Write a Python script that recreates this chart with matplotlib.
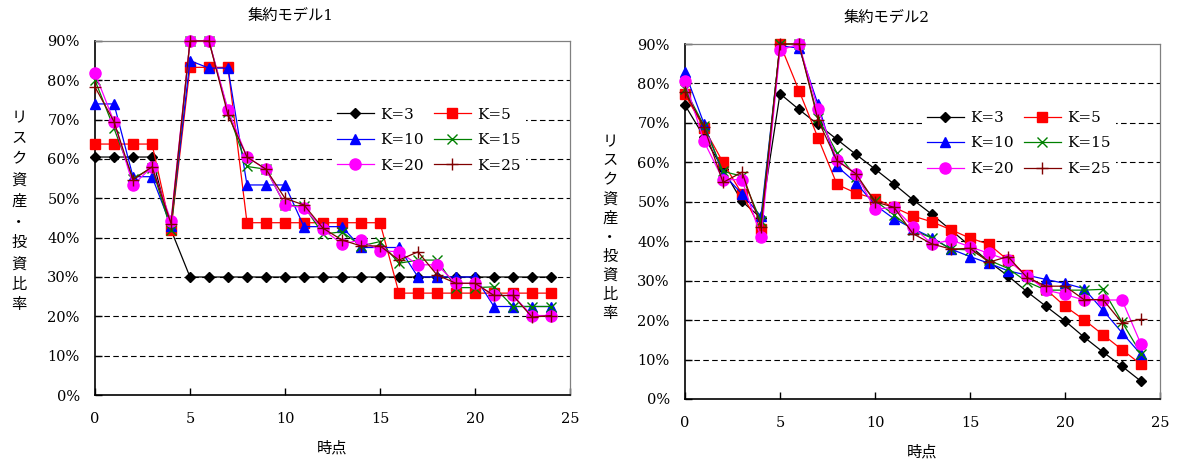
import numpy as np
import matplotlib.pyplot as plt
from matplotlib.ticker import FuncFormatter

plt.rcParams['font.family'] = ['DejaVu Serif', 'Noto Sans CJK JP']

t = np.arange(25)
labels = ['K=3', 'K=5', 'K=10', 'K=15', 'K=20', 'K=25']

# 集約モデル1 (リスク資産比率 %)
m1_k3 = [60.5, 60.5, 60.5, 60.5, 42.0] + [30.0] * 20
m1_k5 = [63.8] * 4 + [42.0, 83.3, 83.3, 83.3] + [43.8] * 8 + [25.9] * 9
m1_k10 = [74.0, 74.0, 55.5, 55.5, 43.0, 85.0, 83.1, 83.1, 53.4, 53.4, 53.4, 42.8, 42.8,
          42.8, 37.5, 37.5, 37.5, 30.0, 30.0, 30.0, 30.0, 22.5, 22.5, 22.5, 22.5]
m1_k15 = [80.0, 67.8, 55.0, 57.8, 42.0, 90.0, 90.0, 72.0, 58.1, 57.4, 48.3, 48.0, 40.9,
          41.5, 37.9, 39.0, 33.5, 34.3, 34.3, 27.3, 27.3, 27.5, 22.5, 22.5, 22.5]
m1_k20 = [81.8, 69.5, 53.4, 58.0, 44.3, 90.0, 90.0, 72.5, 60.5, 57.4, 48.3, 47.6, 42.1,
          38.4, 39.4, 36.7, 36.4, 33.1, 33.1, 28.4, 28.4, 25.3, 25.3, 20.2, 20.2]
m1_k25 = [78.3, 69.5, 54.7, 58.0, 43.6, 90.0, 90.0, 71.2, 60.5, 57.4, 50.0, 48.3, 42.4,
          39.4, 37.9, 37.9, 34.3, 36.4, 30.5, 28.4, 28.4, 25.3, 25.3, 19.8, 20.2]

# 集約モデル2
m2_k3 = [74.5, 66.5, 58.3, 50.1, 45.9, 77.4, 73.4, 69.6, 65.8, 62.0, 58.3, 54.5, 50.5,
         46.8, 42.8, 38.8, 34.8, 31.2, 27.2, 23.5, 19.8, 15.7, 11.9, 8.3, 4.5]
m2_k5 = [77.2, 68.7, 60.0, 52.0, 43.1, 90.0, 78.2, 66.2, 54.4, 52.2, 50.8, 48.6, 46.4,
         44.9, 42.9, 40.8, 39.2, 35.2, 31.4, 27.8, 23.5, 20.1, 16.3, 12.5, 8.8]
m2_k10 = [82.8, 69.8, 57.1, 52.0, 46.3, 89.5, 89.0, 74.7, 59.0, 54.8, 49.2, 45.7, 43.2,
          40.9, 38.0, 36.1, 34.4, 32.5, 31.4, 30.3, 29.3, 28.0, 22.5, 16.8, 11.3]
m2_k15 = [78.5, 69.3, 57.7, 56.5, 45.0, 90.0, 90.0, 71.3, 62.4, 56.3, 50.3, 46.7, 42.8,
          40.8, 38.0, 37.8, 35.2, 33.1, 29.7, 27.6, 27.6, 27.6, 27.8, 19.5, 11.5]
m2_k20 = [80.6, 65.3, 55.6, 55.6, 41.0, 88.4, 90.0, 73.4, 60.6, 57.1, 48.1, 48.6, 43.6,
          39.3, 40.3, 38.6, 36.9, 35.2, 31.2, 27.6, 26.5, 25.1, 25.1, 25.1, 13.9]
m2_k25 = [77.8, 69.0, 54.9, 57.5, 43.6, 90.0, 90.0, 70.7, 60.4, 57.1, 50.0, 48.6, 41.9,
          39.3, 38.0, 38.2, 34.7, 36.1, 30.8, 28.6, 28.6, 25.2, 25.2, 19.3, 20.2]

colors = ['black', '#ff0000', '#0000ff', '#008000', '#ff00ff', '#800000']
markers = ['D', 's', '^', 'x', 'o', '+']
msizes = [5, 7.5, 7.5, 7, 8, 8]


def draw(ax, series):
    for y, c, m, ms, lab in zip(series, colors, markers, msizes, labels):
        ax.plot(t, y, color=c, marker=m, markersize=ms, markeredgewidth=1.0,
                lw=0.9, label=lab, clip_on=False, zorder=3)
    for v in range(10, 90, 10):
        ax.axhline(v, color='black', lw=0.8, ls=(0, (5, 3)), zorder=1)
    ax.set_xlim(0, 25)
    ax.set_ylim(0, 90)
    ax.set_xticks(range(0, 26, 5))
    ax.set_yticks(range(0, 91, 10))
    ax.yaxis.set_major_formatter(FuncFormatter(lambda v, p: f'{int(v)}%'))
    ax.tick_params(direction='in', length=5, width=1, labelsize=10.5)
    ax.tick_params(axis='y', pad=11)
    ax.tick_params(axis='x', pad=12)
    for s in ['left', 'bottom']:
        ax.spines[s].set_linewidth(1.2)
        ax.spines[s].set_color('black')
    for s in ['top', 'right']:
        ax.spines[s].set_linewidth(0.9)
        ax.spines[s].set_color('#808080')

    # 凡例は行ごとに K=3 K=5 / K=10 K=15 / K=20 K=25
    h, l = ax.get_legend_handles_labels()
    order = [0, 2, 4, 1, 3, 5]
    leg = ax.legend([h[i] for i in order], [l[i] for i in order], ncol=2,
                    loc='center', bbox_to_anchor=(0.703, 0.72), fontsize=11,
                    handlelength=2.4, handletextpad=0.45, columnspacing=0.65,
                    labelspacing=0.75, borderpad=0.3, frameon=True, fancybox=False)
    leg.get_frame().set_facecolor('white')
    leg.get_frame().set_edgecolor('none')
    leg.get_frame().set_alpha(1)


fig = plt.figure(figsize=(11.78, 4.61), dpi=100)
ax1 = fig.add_axes([95 / 1178, 1 - 395 / 461, 475 / 1178, 354 / 461])
ax2 = fig.add_axes([685 / 1178, 1 - 399 / 461, 475 / 1178, 355 / 461])

draw(ax1, [m1_k3, m1_k5, m1_k10, m1_k15, m1_k20, m1_k25])
draw(ax2, [m2_k3, m2_k5, m2_k10, m2_k15, m2_k20, m2_k25])

ylab = '\n'.join('リスク資産・投資比率')
fig.text(291 / 1178, 1 - 16 / 461, '集約モデル1', ha='center', va='center', fontsize=11)
fig.text(887 / 1178, 1 - 18 / 461, '集約モデル2', ha='center', va='center', fontsize=11)
fig.text(19 / 1178, 1 - 212 / 461, ylab, ha='center', va='center', fontsize=11, linespacing=1.6)
fig.text(610 / 1178, 1 - 228 / 461, ylab, ha='center', va='center', fontsize=11, linespacing=1.45)
fig.text(332 / 1178, 1 - 448 / 461, '時点', ha='center', va='center', fontsize=11)
fig.text(922 / 1178, 1 - 452 / 461, '時点', ha='center', va='center', fontsize=11)

fig.savefig('out.png', dpi=100)
